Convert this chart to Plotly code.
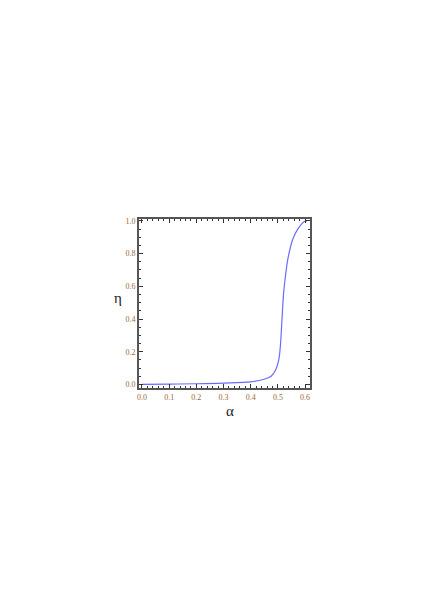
import plotly.graph_objects as go

# values
alpha = [0.0, 0.1, 0.2, 0.3, 0.4, 0.446, 0.475, 0.492, 0.503, 0.509, 0.515,
         0.521, 0.529, 0.538, 0.555, 0.573, 0.596, 0.607]
eta = [0.0, 0.002, 0.004, 0.008, 0.016, 0.03, 0.05, 0.09, 0.15, 0.235, 0.40,
       0.56, 0.68, 0.78, 0.89, 0.95, 0.995, 1.0]

x_ticks = [0.0, 0.1, 0.2, 0.3, 0.4, 0.5, 0.6]
y_ticks = [0.0, 0.2, 0.4, 0.6, 0.8, 1.0]

fig = go.Figure()
fig.add_trace(go.Scatter(x=alpha, y=eta, mode='lines', line_shape='spline',
                         line=dict(color='#6b6bff', width=1.2),
                         showlegend=False, hoverinfo='skip'))

tick_font = dict(family='Liberation Serif', size=8, color='#9a6a3a')
axis_common = dict(showgrid=False, zeroline=False, showline=True, mirror='allticks',
                   linecolor='#555555', linewidth=2, ticks='inside', ticklen=4,
                   tickcolor='#333333', tickwidth=1, tickfont=tick_font)

fig.update_xaxes(range=[-0.011, 0.618], tickvals=x_ticks,
                 ticktext=['%.1f' % v for v in x_ticks],
                 minor=dict(dtick=0.02, tick0=0, ticks='inside', ticklen=2,
                            tickcolor='#333333'),
                 ticklabelstandoff=0,
                 **axis_common)
fig.update_yaxes(range=[-0.022, 1.012], tickvals=y_ticks,
                 ticktext=['%.1f' % v for v in y_ticks],
                 minor=dict(dtick=0.05, tick0=0, ticks='inside', ticklen=2,
                            tickcolor='#333333'),
                 **axis_common)

label_font = dict(family='Liberation Serif', size=15, color='#222222')
fig.add_annotation(text='η', xref='paper', yref='paper', x=-0.123, y=0.533,
                   xanchor='center', yanchor='middle', showarrow=False, font=label_font)
fig.add_annotation(text='α', xref='paper', yref='paper', x=0.532, y=-0.075,
                   xanchor='center', yanchor='top', showarrow=False, font=label_font)

fig.update_layout(width=436, height=616, plot_bgcolor='white', paper_bgcolor='white',
                  margin=dict(l=131, r=134, t=211, b=236))

fig.write_html('out.html')
